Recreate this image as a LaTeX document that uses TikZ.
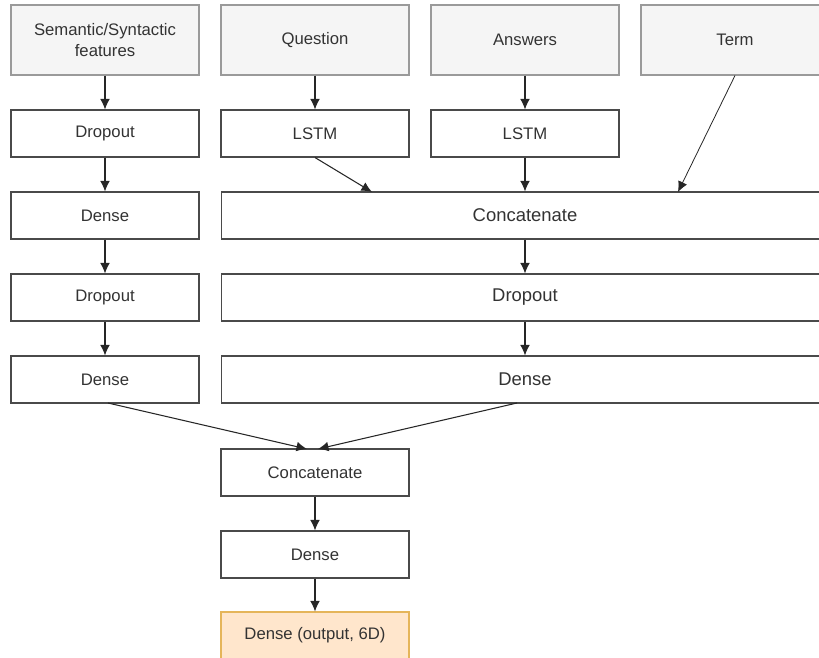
\documentclass[tikz,border=0pt]{standalone}
\usepackage{fontspec}
\setmainfont{Liberation Sans}
\usetikzlibrary{arrows.meta}
\definecolor{boxline}{HTML}{4A4A4A}
\definecolor{inputline}{HTML}{9A9A9A}
\definecolor{inputfill}{HTML}{F5F5F5}
\definecolor{outfill}{HTML}{FFE6CC}
\definecolor{outline}{HTML}{E5B55A}
\definecolor{txt}{HTML}{333333}
\tikzset{
	layer/.style={draw=boxline, line width=0.6pt, fill=white, text=txt, font=\fontsize{9.5}{11.5}\selectfont, minimum width=3.76cm, minimum height=0.94cm, inner sep=0pt, align=center},
	inputbox/.style={layer, draw=inputline, fill=inputfill, minimum height=1.4cm},
	widelayer/.style={layer, minimum width=12.16cm, font=\fontsize{10.5}{12.5}\selectfont},
	outbox/.style={layer, fill=outfill, draw=outline},
	arr/.style={draw=black!85, line width=0.6pt, -{Latex[length=6pt,width=5.5pt]}}
}

\begin{document}
\begin{tikzpicture}[x=0.02cm, y=-0.02cm]
		%%%%% START %%%%%
		\clip (0, 0) rectangle (819, 657);
		\fill[white] (0, 0) rectangle (819, 657);
		
		\node[inputbox] (feat) at (105, 40) {Semantic/Syntactic\\features};
		\node[inputbox] (question) at (315, 40) {Question};
		\node[inputbox] (answers) at (525, 40) {Answers};
		\node[inputbox] (term) at (735, 40) {Term};
		
		\node[layer] (dropA) at (105, 133.5) {Dropout};
		\node[layer] (lstmQ) at (315, 133.5) {LSTM};
		\node[layer] (lstmA) at (525, 133.5) {LSTM};
		
		\node[layer] (denseA) at (105, 215.5) {Dense};
		\node[widelayer] (catB) at (525, 215.5) {Concatenate};
		
		\node[layer] (dropC) at (105, 297.5) {Dropout};
		\node[widelayer] (dropB) at (525, 297.5) {Dropout};
		
		\node[layer] (denseC) at (105, 379.5) {Dense};
		\node[widelayer] (denseB) at (525, 379.5) {Dense};
		
		\node[layer] (catAll) at (315, 472.5) {Concatenate};
		\node[layer] (denseAll) at (315, 554.5) {Dense};
		\node[outbox] (output) at (315, 635.5) {Dense (output, 6D)};
		
		% ends that do not sit on an anchor
		\coordinate (qIn) at (372, 192);
		\coordinate (tIn) at (678, 192);
		\coordinate (lOut) at (108, 403);
		\coordinate (rOut) at (517, 403);
		\coordinate (lIn) at (307, 449);
		\coordinate (rIn) at (318, 449);
		
		\draw[arr] (feat) -- (dropA);
		\draw[arr] (dropA) -- (denseA);
		\draw[arr] (denseA) -- (dropC);
		\draw[arr] (dropC) -- (denseC);
		
		\draw[arr] (question) -- (lstmQ);
		\draw[arr] (answers) -- (lstmA);
		\draw[arr] (lstmQ.south) -- (qIn);
		\draw[arr] (lstmA) -- (catB);
		\draw[arr, line width=0.45pt] (term.south) -- (tIn);
		\draw[arr] (catB) -- (dropB);
		\draw[arr] (dropB) -- (denseB);
		
		\draw[arr] (lOut) -- (lIn);
		\draw[arr] (rOut) -- (rIn);
		\draw[arr] (catAll) -- (denseAll);
		\draw[arr] (denseAll) -- (output);
		%%%%% END %%%%%
	\end{tikzpicture}
\end{document}
